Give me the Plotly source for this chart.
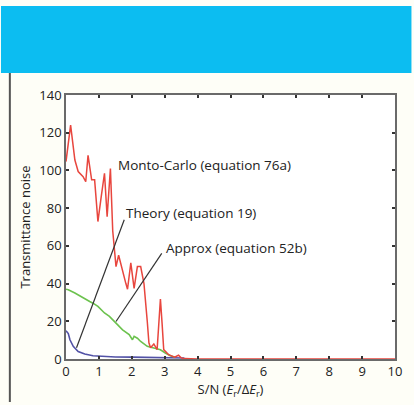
import plotly.graph_objects as go

# Monte-Carlo (equation 76a)
mc_x = [0.0, 0.14, 0.27, 0.37, 0.52, 0.6, 0.67, 0.78, 0.87, 0.97, 1.07, 1.17, 1.25, 1.35,
        1.42, 1.47, 1.52, 1.6, 1.72, 1.82, 1.87, 1.97, 2.07, 2.17, 2.27, 2.37, 2.47, 2.52,
        2.57, 2.67, 2.77, 2.87, 2.92, 2.97, 3.12, 3.3, 3.42, 3.5, 3.6, 4.0, 5.0, 6.0, 7.0,
        8.0, 9.0, 10.0]
mc_y = [104.7, 124, 105.5, 99.4, 96.7, 94, 108, 95, 95, 72.9, 86, 98.5, 75.5, 101,
        68, 58, 49, 55, 46, 40, 37, 51, 37.5, 49, 49, 40, 20, 8.6,
        6, 8, 5, 31.8, 19, 5, 2.3, 1.0, 2.0, 0.6, 0.2, 0, 0, 0, 0,
        0, 0, 0]

# Approx (equation 52b)
ap_x = [0.0, 0.07, 0.27, 0.52, 0.72, 0.82, 0.97, 1.17, 1.32, 1.52, 1.72, 1.92, 2.02,
        2.07, 2.17, 2.27, 2.47, 2.67, 2.87, 3.02, 3.17, 3.32]
ap_y = [37.0, 36.7, 35, 32.3, 30.5, 29.6, 27.9, 24.4, 22.6, 19, 15.5, 12.9, 10.2,
        12, 11, 9.3, 6.7, 5.8, 4.9, 3.2, 1.7, 0.9]

# Theory (equation 19)
th_x = [0.0, 0.07, 0.12, 0.22, 0.37, 0.57, 0.82, 1.12, 1.5, 2.0, 2.5, 3.0, 3.5, 3.6]
th_y = [15.0, 13.5, 10.2, 6.7, 4.0, 2.6, 1.7, 1.3, 1.1, 1.0, 0.8, 0.7, 0.5, 0.5]

x_ticks = [0, 1, 2, 3, 4, 5, 6, 7, 8, 9, 10]
y_ticks = [0, 20, 40, 60, 80, 100, 120, 140]

FONT = "Open Sans"

fig = go.Figure()
fig.add_trace(go.Scatter(x=th_x, y=th_y, mode="lines",
                         line=dict(color="#5252a6", width=1.6), name="Theory"))
fig.add_trace(go.Scatter(x=ap_x, y=ap_y, mode="lines",
                         line=dict(color="#6cc24e", width=1.6), name="Approx"))
fig.add_trace(go.Scatter(x=mc_x, y=mc_y, mode="lines",
                         line=dict(color="#e8463e", width=1.5), name="Monte-Carlo"))

shapes = [
    # header band
    dict(type="rect", xref="paper", yref="paper", x0=-66/334, x1=1.05, y0=(405-73-46)/264, y1=(405-6-46)/264,
         fillcolor="#0cbdf1", line=dict(width=0), layer="below"),
    # left border
    dict(type="line", xref="paper", yref="paper", x0=-57/334, x1=-57/334, y0=(405-402-46)/264, y1=(405-73-46)/264,
         line=dict(color="#555555", width=2)),
    # annotation leader lines
    dict(type="line", xref="x", yref="y", x0=1.77, y0=73.8, x1=0.32, y1=6.0,
         line=dict(color="#333333", width=1.2)),
    dict(type="line", xref="x", yref="y", x0=2.91, y0=56.0, x1=1.52, y1=19.9,
         line=dict(color="#333333", width=1.2)),
]

annotations = [
    dict(x=1.52, y=103, xref="x", yref="y", text="Monto-Carlo (equation 76a)", showarrow=False,
         xanchor="left", yanchor="middle", font=dict(family=FONT, size=13.5, color="#222")),
    dict(x=1.76, y=77.5, xref="x", yref="y", text="Theory (equation 19)", showarrow=False,
         xanchor="left", yanchor="middle", font=dict(family=FONT, size=13.5, color="#222")),
    dict(x=2.98, y=58.8, xref="x", yref="y", text="Approx (equation 52b)", showarrow=False,
         xanchor="left", yanchor="middle", font=dict(family=FONT, size=13.5, color="#222")),
]

axis_common = dict(showline=True, linecolor="#6a6a6a", linewidth=1.6, mirror="ticks",
                   ticks="inside", ticklen=3, tickwidth=1.5, tickcolor="#333",
                   showgrid=False, zeroline=False,
                   tickfont=dict(family=FONT, size=13, color="#222"))

fig.update_layout(
    width=414, height=405,
    margin=dict(l=66, r=14, t=95, b=46),
    paper_bgcolor="#fefef7", plot_bgcolor="#ffffff",
    showlegend=False,
    shapes=shapes, annotations=annotations,
    xaxis=dict(range=[0, 10], tickvals=x_ticks,
               title=dict(text="S/N (<i>E</i><sub>r</sub>/Δ<i>E</i><sub>r</sub>)",
                          font=dict(family=FONT, size=13, color="#222"), standoff=2),
               **axis_common),
    yaxis=dict(range=[0, 140], tickvals=y_ticks,
               title=dict(text="Transmittance noise",
                          font=dict(family=FONT, size=13, color="#222"), standoff=6),
               **axis_common),
)

fig.write_html("out.html", config={"displayModeBar": False},
               post_script="document.body.style.margin='0';document.body.style.overflow='hidden';")
